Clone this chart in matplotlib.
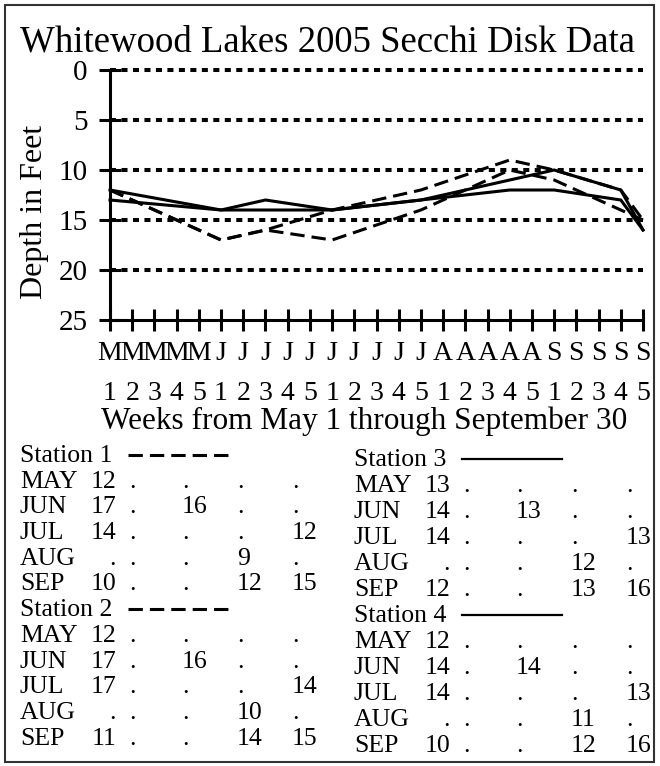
import matplotlib
matplotlib.use("Agg")
import matplotlib.pyplot as plt
from matplotlib.lines import Line2D
from matplotlib.patches import Rectangle

plt.rcParams['font.family'] = ['Liberation Serif', 'DejaVu Serif']

# weekly secchi readings (feet), None = no reading that week
months = ['MAY', 'JUN', 'JUL', 'AUG', 'SEP']
month_letters = ['M', 'J', 'J', 'A', 'S']
week_numbers = [1, 2, 3, 4, 5]
depth_ticks = [0, 5, 10, 15, 20, 25]

station1 = [[12, None, None, None, None],
            [17, None, 16, None, None],
            [14, None, None, None, 12],
            [None, None, None, 9, None],
            [10, None, None, 12, 15]]
station2 = [[12, None, None, None, None],
            [17, None, 16, None, None],
            [17, None, None, None, 14],
            [None, None, None, 10, None],
            [11, None, None, 14, 15]]
station3 = [[13, None, None, None, None],
            [14, None, 13, None, None],
            [14, None, None, None, 13],
            [None, None, None, 12, None],
            [12, None, None, 13, 16]]
station4 = [[12, None, None, None, None],
            [14, None, 14, None, None],
            [14, None, None, None, 13],
            [None, None, None, 11, None],
            [10, None, None, 12, 16]]

stations = [('Station 1', station1, True),
            ('Station 2', station2, True),
            ('Station 3', station3, False),
            ('Station 4', station4, False)]

W, H = 660, 766
DASH = (0, (4.7, 2.3))


def fx(x):
    return x / W


def fy(y):
    return 1 - y / H


fig = plt.figure(figsize=(W / 100, H / 100), dpi=100)
ax = fig.add_axes([fx(110), fy(320), 533 / W, 250 / H])

# dotted horizontal grid
ax.hlines(depth_ticks[:-1], 0, len(months) * 5 - 1, colors='black', lw=2.9,
          linestyles=[(0, (1.5, 1.35))], zorder=1, clip_on=False)

for name, data, dashed in stations:
    xs, ys = [], []
    for mi, row in enumerate(data):
        for wi, v in enumerate(row):
            if v is not None:
                xs.append(mi * 5 + wi)
                ys.append(v)
    ax.plot(xs, ys, color='black', lw=2.2, linestyle=DASH if dashed else '-',
            clip_on=False, zorder=3)

ax.set_xlim(0, len(months) * 5 - 1)
ax.set_ylim(25, 0)
for s in ['top', 'right']:
    ax.spines[s].set_visible(False)
for s in ['left', 'bottom']:
    ax.spines[s].set_linewidth(2.2)
ax.set_yticks(depth_ticks)
ax.set_xticks(range(len(months) * 5))
ax.set_xticklabels([f"{m}\n{w}" for m in month_letters for w in week_numbers])
ax.tick_params(axis='both', direction='inout', length=16, width=2.2)
ax.tick_params(axis='y', pad=8, labelsize=21)
ax.tick_params(axis='x', pad=7, labelsize=20)
for lab in ax.get_xticklabels():
    lab.set_linespacing(1.8)

fig.text(fx(327), fy(42), 'Whitewood Lakes 2005 Secchi Disk Data', fontsize=26.5,
         ha='center', va='center')
fig.text(fx(35), fy(212), 'Depth in Feet', fontsize=23, rotation=90,
         ha='center', va='center')
fig.text(fx(364), fy(421), 'Weeks from May 1 through September 30', fontsize=22.5,
         ha='center', va='center')


# data tables under the chart
def draw_table(x0, y0, step, name, data, dashed):
    fs = 18.5
    fig.text(fx(x0), fy(y0), name, fontsize=fs, va='center')
    fig.add_artist(Line2D([fx(x0 + 108), fx(x0 + 208)], [fy(y0 - 1), fy(y0 - 1)],
                          color='black', lw=1.6 if not dashed else 2.2,
                          linestyle=DASH if dashed else '-'))
    cols = [x0 + 109, x0 + 162, x0 + 217, x0 + 272]
    for i, (m, row) in enumerate(zip(months, data)):
        y = fy(y0 + (i + 1) * step)
        fig.text(fx(x0), y, m, fontsize=fs, va='center')
        first = '.' if row[0] is None else str(row[0])
        fig.text(fx(x0 + 96), y, first, fontsize=fs, va='center', ha='right')
        for cx, v in zip(cols, row[1:]):
            fig.text(fx(cx), y, '.' if v is None else str(v), fontsize=fs, va='center')


draw_table(20, 456, 25.7, stations[0][0], station1, True)
draw_table(20, 456 + 6 * 25.7, 25.7, stations[1][0], station2, True)
draw_table(354, 460, 26.0, stations[2][0], station3, False)
draw_table(354, 460 + 6 * 26.0, 26.0, stations[3][0], station4, False)

fig.add_artist(Rectangle((fx(5), fy(762)), 649 / W, 757 / H, transform=fig.transFigure,
                         fill=False, lw=1.5, ec='#333333'))

fig.savefig('out.png', dpi=100)
